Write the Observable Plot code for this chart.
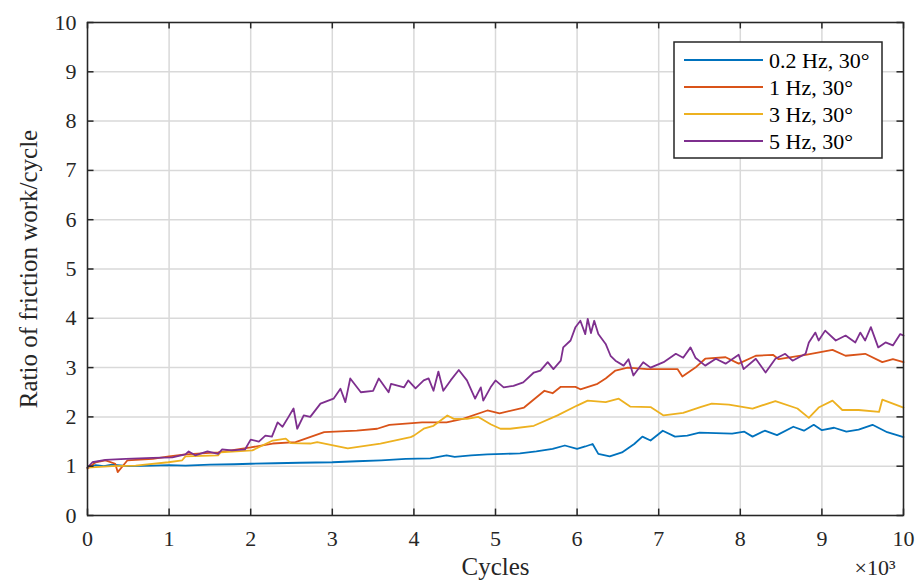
<!DOCTYPE html>
<html>
<head>
<meta charset="utf-8">
<script src="https://cdn.jsdelivr.net/npm/d3@7"></script>
<script src="https://cdn.jsdelivr.net/npm/@observablehq/plot@0.6"></script>
<style>
  body { margin: 0; background: #fff; }
  #chart { position: relative; width: 920px; height: 586px; }
</style>
</head>
<body>
<div id="chart"></div>
<script>
// ---- Data ----
const seriesNames = ["0.2 Hz, 30°", "1 Hz, 30°", "3 Hz, 30°", "5 Hz, 30°"];
const seriesColors = ["#0072BD", "#D95319", "#EDB120", "#7E2F8E"];

const blueCycles = [0,100,200,300,500,800,1000,1200,1500,1800,2000,2300,2600,3000,3300,3600,3900,4200,4400,4500,4700,4900,5100,5300,5500,5700,5850,6000,6100,6190,6260,6400,6550,6700,6800,6900,7050,7200,7350,7500,7700,7900,8050,8150,8300,8450,8650,8780,8900,9000,9150,9300,9450,9620,9800,10000];
const blueValues = [0.97,1.02,1.0,1.03,1.0,1.01,1.02,1.01,1.03,1.04,1.05,1.06,1.07,1.08,1.1,1.12,1.15,1.16,1.22,1.19,1.22,1.24,1.25,1.26,1.3,1.35,1.42,1.35,1.4,1.45,1.25,1.2,1.28,1.45,1.6,1.52,1.72,1.6,1.62,1.68,1.67,1.66,1.7,1.6,1.72,1.63,1.8,1.72,1.84,1.73,1.78,1.7,1.74,1.84,1.69,1.59];

const orangeCycles = [0,100,220,340,370,430,490,800,1000,1200,1600,2000,2270,2550,2900,3300,3550,3700,4100,4400,4600,4900,5050,5350,5600,5700,5800,5980,6040,6250,6350,6470,6620,6860,7230,7290,7450,7570,7820,7980,8190,8400,8470,8800,9130,9290,9530,9740,9870,10000];
const orangeValues = [0.95,1.08,1.12,1.05,0.88,1.0,1.12,1.15,1.2,1.24,1.28,1.38,1.46,1.49,1.69,1.72,1.76,1.84,1.89,1.89,1.96,2.13,2.07,2.19,2.53,2.48,2.61,2.61,2.56,2.67,2.78,2.94,3.0,2.97,2.97,2.82,3.0,3.18,3.21,3.08,3.24,3.26,3.17,3.26,3.36,3.24,3.28,3.11,3.17,3.11];

const yellowCycles = [0,300,590,990,1160,1200,1600,1630,2020,2270,2430,2490,2730,2815,3190,3590,3960,4000,4120,4240,4410,4490,4650,4790,4940,5060,5180,5470,5760,6000,6130,6350,6510,6650,6900,7060,7300,7510,7650,7860,8150,8430,8700,8840,8960,9130,9250,9450,9700,9740,10000];
const yellowValues = [0.97,1.0,1.01,1.08,1.12,1.2,1.22,1.28,1.32,1.52,1.56,1.47,1.46,1.49,1.36,1.46,1.59,1.62,1.76,1.82,2.03,1.96,1.96,2.0,1.85,1.76,1.76,1.82,2.03,2.23,2.33,2.3,2.37,2.21,2.2,2.03,2.08,2.2,2.27,2.25,2.17,2.32,2.17,1.98,2.19,2.33,2.14,2.14,2.1,2.35,2.19];

const purpleCycles = [0,60,220,470,800,1040,1200,1240,1320,1470,1600,1650,1770,1930,2000,2100,2180,2260,2330,2390,2460,2525,2570,2650,2730,2855,3015,3100,3160,3220,3350,3500,3570,3690,3720,3880,3930,4020,4120,4180,4240,4300,4360,4450,4550,4650,4750,4820,4850,4940,5000,5100,5220,5340,5470,5550,5640,5710,5800,5830,5920,5980,6040,6100,6130,6170,6210,6260,6350,6410,6470,6570,6630,6690,6810,6900,7060,7210,7300,7390,7450,7570,7700,7820,7980,8040,8190,8310,8430,8550,8640,8800,8840,8920,8960,9040,9170,9290,9410,9470,9530,9600,9690,9780,9870,9960,10000];
const purpleValues = [0.97,1.08,1.13,1.15,1.17,1.18,1.24,1.3,1.22,1.3,1.25,1.34,1.32,1.34,1.54,1.5,1.62,1.6,1.89,1.8,1.99,2.17,1.76,2.03,2.0,2.27,2.37,2.57,2.3,2.78,2.5,2.53,2.78,2.5,2.67,2.6,2.74,2.58,2.74,2.78,2.53,2.92,2.53,2.74,2.95,2.74,2.37,2.6,2.33,2.6,2.74,2.6,2.63,2.7,2.9,2.94,3.11,2.97,3.14,3.41,3.55,3.82,3.95,3.68,3.99,3.7,3.95,3.68,3.48,3.24,3.14,3.04,3.17,2.84,3.11,3.0,3.11,3.28,3.2,3.41,3.2,3.04,3.18,3.08,3.26,2.97,3.18,2.9,3.18,3.28,3.14,3.28,3.51,3.71,3.55,3.75,3.55,3.65,3.51,3.71,3.55,3.82,3.41,3.51,3.45,3.68,3.65];

const xTicks = [0,1000,2000,3000,4000,5000,6000,7000,8000,9000,10000];
const xTickLabels = ["0","1","2","3","4","5","6","7","8","9","10"];
const yTicks = [0,1,2,3,4,5,6,7,8,9,10];
const xLabel = "Cycles";
const yLabel = "Ratio of friction work/cycle";
const xExponent = "×10³";

// ---- Build table ----
const allCycles = [blueCycles, orangeCycles, yellowCycles, purpleCycles];
const allValues = [blueValues, orangeValues, yellowValues, purpleValues];
const rows = [];
allCycles.forEach((cyc, s) => cyc.forEach((c, i) => rows.push({series: seriesNames[s], cycles: c, value: allValues[s][i]})));

const FONT = "'Liberation Serif', 'Times New Roman', serif";
const axisColor = "#262626";

const xTickLen = 80;   // in cycles (~6.5px)
const yTickLen = 0.13; // in ratio units (~6.5px)

const chart = Plot.plot({
  width: 920,
  height: 586,
  marginLeft: 87,
  marginRight: 17,
  marginTop: 22,
  marginBottom: 71,
  style: {fontFamily: FONT, fontSize: "22px", color: axisColor, background: "#fff"},
  x: {domain: [0, 10000]},
  y: {domain: [0, 10]},
  color: {domain: seriesNames, range: seriesColors},
  marks: [
    Plot.ruleX(xTicks, {x: d => d, stroke: "#d9d9d9", strokeWidth: 1.5}),
    Plot.ruleY(yTicks, {y: d => d, stroke: "#d9d9d9", strokeWidth: 1.5}),
    Plot.line(rows, {x: "cycles", y: "value", z: "series", stroke: "series", strokeWidth: 1.8, strokeLinejoin: "round"}),
    Plot.frame({stroke: axisColor, strokeWidth: 1.5}),
    // inward ticks on all four sides
    Plot.ruleX(xTicks, {x: d => d, y1: 0, y2: yTickLen, stroke: axisColor, strokeWidth: 1.5}),
    Plot.ruleX(xTicks, {x: d => d, y1: 10, y2: 10 - yTickLen, stroke: axisColor, strokeWidth: 1.5}),
    Plot.ruleY(yTicks, {y: d => d, x1: 0, x2: xTickLen, stroke: axisColor, strokeWidth: 1.5}),
    Plot.ruleY(yTicks, {y: d => d, x1: 10000, x2: 10000 - xTickLen, stroke: axisColor, strokeWidth: 1.5}),
    Plot.axisX(xTicks, {tickSize: 0, tickPadding: 15, tickFormat: (d, i) => xTickLabels[i], fontSize: 22, label: null}),
    Plot.axisY(yTicks, {tickSize: 0, tickPadding: 11, fontSize: 22, label: null}),
    Plot.text([xLabel], {frameAnchor: "bottom", dy: 59, fontSize: 25, text: d => d, textAnchor: "middle"}),
    Plot.text([yLabel], {frameAnchor: "left", dx: -59, rotate: -90, fontSize: 25, text: d => d, textAnchor: "middle"}),
    Plot.text([xExponent], {frameAnchor: "bottom-right", dy: 59, dx: -8, textAnchor: "end", fontSize: 22, text: d => d})
  ]
});

document.getElementById("chart").appendChild(chart);

// ---- Legend box (inside the plot, top-right) ----
const svg = d3.select(chart);
const lg = svg.append("g").attr("transform", "translate(674,42)").style("font-family", FONT).attr("text-anchor", "start");
lg.append("rect").attr("width", 208).attr("height", 116).attr("fill", "#fff").attr("stroke", axisColor).attr("stroke-width", 1.5);
seriesNames.forEach((name, i) => {
  const y = 18 + i * 27;
  lg.append("line").attr("x1", 10).attr("x2", 89).attr("y1", y).attr("y2", y).attr("stroke", seriesColors[i]).attr("stroke-width", 1.8);
  lg.append("text").attr("x", 95).attr("y", y).attr("dy", "0.35em").attr("font-size", 22).attr("text-anchor", "start").attr("fill", "#000").text(name);
});
</script>
</body>
</html>
